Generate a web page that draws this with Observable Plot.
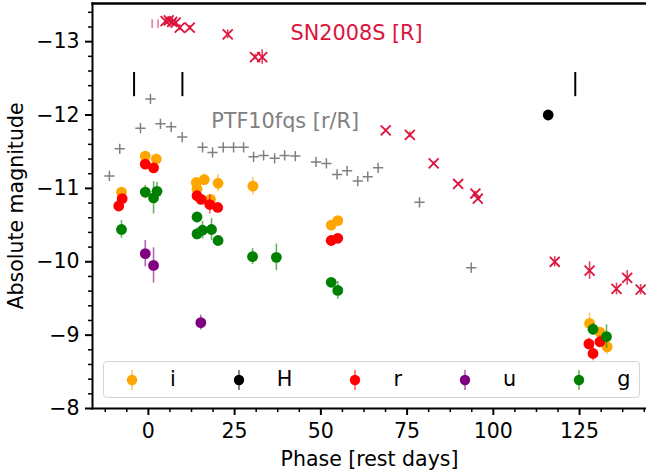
<!DOCTYPE html>
<html><head><meta charset="utf-8">
<script src="https://cdn.jsdelivr.net/npm/d3@7"></script>
<script src="https://cdn.jsdelivr.net/npm/@observablehq/plot@0.6"></script>
<style>
body{margin:0;background:#fff;}
#wrap{position:relative;width:646px;height:473px;font-family:"DejaVu Sans",sans-serif;overflow:hidden;}
#legend{position:absolute;left:103px;top:361px;width:537px;height:37px;border:1px solid #d4d4d4;border-radius:4px;background:rgba(255,255,255,0.8);display:flex;align-items:center;padding-left:18px;box-sizing:border-box;font-size:20.8px;color:#000;}
.entry{display:flex;align-items:center;margin-right:53px;}
.entry span{margin-left:28px;line-height:1;}
</style></head><body><div id="wrap"></div><script>
// ---- data ----
const bands = ["i", "H", "r", "u", "g"];
const bandColors = ["orange", "black", "red", "purple", "green"];

const iPhase = [-7.8, -0.9, 2.3, 13.9, 14.1, 16.2, 18.0, 20.2, 30.3, 53.0, 54.9, 127.9, 130.9, 133.0];
const iMag   = [-10.95, -11.44, -11.40, -11.08, -10.99, -11.12, -10.85, -11.07, -11.03, -10.50, -10.56, -9.16, -9.04, -8.84];
const iErr   = [0.05, 0.05, 0.07, 0.05, 0.05, 0.08, 0.06, 0.12, 0.12, 0.05, 0.05, 0.14, 0.06, 0.10];

const HPhase = [115.9];
const HMag   = [-12.00];
const HErr   = [0.05];

const rPhase = [-8.6, -7.6, -0.9, 1.5, 14.1, 15.3, 17.8, 20.1, 53.0, 54.9, 127.7, 128.9, 130.9];
const rMag   = [-10.76, -10.86, -11.33, -11.28, -10.90, -10.85, -10.78, -10.74, -10.29, -10.32, -8.88, -8.75, -8.91];
const rErr   = [0.05, 0.05, 0.05, 0.05, 0.05, 0.05, 0.13, 0.05, 0.05, 0.05, 0.08, 0.10, 0.08];

const uPhase = [-0.9, 1.5, 15.2];
const uMag   = [-10.11, -9.95, -9.17];
const uErr   = [0.18, 0.24, 0.10];

const gPhase = [-7.8, -0.9, 1.5, 2.5, 14.1, 14.1, 15.7, 18.3, 20.2, 30.2, 37.1, 53.0, 54.9, 128.9, 132.8];
const gMag   = [-10.44, -10.95, -10.87, -10.96, -10.61, -10.38, -10.43, -10.44, -10.29, -10.07, -10.06, -9.72, -9.61, -9.08, -8.98];
const gErr   = [0.12, 0.09, 0.22, 0.12, 0.05, 0.08, 0.12, 0.15, 0.05, 0.11, 0.18, 0.05, 0.12, 0.08, 0.16];

// SN2008S [R] comparison light curve
const snPhase = [5.0, 5.9, 6.9, 7.9, 9.1, 12.0, 23.0, 30.9, 33.0, 68.8, 75.8, 82.7, 89.8, 94.8, 95.5, 117.8, 127.9, 135.7, 138.8, 142.7];
const snMag   = [-13.28, -13.29, -13.27, -13.26, -13.19, -13.19, -13.10, -12.79, -12.79, -11.79, -11.73, -11.34, -11.06, -10.93, -10.86, -10.00, -9.88, -9.63, -9.78, -9.62];
const snErr   = [0.05, 0.05, 0.05, 0.05, 0.04, 0.03, 0.06, 0.04, 0.10, 0.02, 0.04, 0.02, 0.02, 0.03, 0.03, 0.07, 0.12, 0.08, 0.10, 0.07];
// SN2008S early points shown only as error bars
const snBarPhase = [1.1, 2.8];
const snBarMag   = [-13.24, -13.24];
const snBarErr   = [0.06, 0.06];

// PTF10fqs [r/R] comparison
const ptfPhase = [-11.3, -8.3, -2.3, 0.6, 3.5, 6.6, 9.8, 15.7, 18.6, 21.7, 24.7, 27.6, 30.5, 33.4, 36.6, 39.5, 42.6, 48.6, 51.6, 54.7, 57.6, 60.7, 63.6, 66.6, 78.6, 93.6];
const ptfMag   = [-11.17, -11.54, -11.82, -12.22, -11.88, -11.84, -11.70, -11.56, -11.49, -11.56, -11.56, -11.56, -11.43, -11.45, -11.41, -11.45, -11.44, -11.36, -11.34, -11.19, -11.24, -11.10, -11.16, -11.28, -10.81, -9.92];

// epoch markers (vertical black bars)
const epochPhase = [-4.15, 9.86, 123.75];
const epochMagTop = -12.58;
const epochMagBottom = -12.25;

// annotations
const annText  = ["SN2008S [R]", "PTF10fqs [r/R]"];
const annPhase = [41.2, 18.2];
const annMag   = [-13.12, -11.91];
const annColor = ["crimson", "gray"];

const xTicks = [0, 25, 50, 75, 100, 125];
const yTicks = [-13, -12, -11, -10, -9, -8];
const xDomain = [-16.2, 144.4];
const yDomain = [-8, -13.52];

// ---- build tables ----
const bandData = {
  i: [iPhase, iMag, iErr], H: [HPhase, HMag, HErr], r: [rPhase, rMag, rErr],
  u: [uPhase, uMag, uErr], g: [gPhase, gMag, gErr]
};
const zip = (p, m, e) => p.map((d, k) => ({phase: d, mag: m[k], err: e ? e[k] : 0}));
const sn = zip(snPhase, snMag, snErr);
const snBar = zip(snBarPhase, snBarMag, snBarErr);
const ptf = zip(ptfPhase, ptfMag);
const epochs = epochPhase.map(p => ({phase: p, top: epochMagTop, bottom: epochMagBottom}));
const ann = annText.map((t, k) => ({text: t, phase: annPhase[k], mag: annMag[k], color: annColor[k]}));

const xMinor = d3.range(-12.5, 145, 6.25).filter(v => Math.abs(v % 25) > 1e-9);
const yMinor = d3.range(-13.4, -8, 0.2).map(v => +v.toFixed(1)).filter(v => Math.abs(v - Math.round(v)) > 1e-6);

const marks = [];
// SN2008S
marks.push(Plot.ruleX(snBar, {x: "phase", y1: d => d.mag - d.err, y2: d => d.mag + d.err, stroke: "crimson", strokeOpacity: 0.55, strokeWidth: 1.6}));
marks.push(Plot.ruleX(sn, {x: "phase", y1: d => d.mag - d.err, y2: d => d.mag + d.err, stroke: "crimson", strokeOpacity: 0.8, strokeWidth: 1.6}));
marks.push(Plot.dot(sn, {x: "phase", y: "mag", symbol: "times", r: 4.6, stroke: "crimson", strokeWidth: 1.8}));
// PTF10fqs
marks.push(Plot.dot(ptf, {x: "phase", y: "mag", symbol: "plus", r: 3.4, stroke: "gray", strokeWidth: 1.5}));
// epochs
marks.push(Plot.ruleX(epochs, {x: "phase", y1: "top", y2: "bottom", stroke: "black", strokeWidth: 2}));
// bands
bands.forEach((b, k) => {
  const rows = zip(...bandData[b]);
  marks.push(Plot.ruleX(rows, {x: "phase", y1: d => d.mag - d.err, y2: d => d.mag + d.err, stroke: bandColors[k], strokeOpacity: 0.6, strokeWidth: 1.6}));
  marks.push(Plot.dot(rows, {x: "phase", y: "mag", r: 5.4, fill: bandColors[k], stroke: "none"}));
});
// annotations
marks.push(Plot.text(ann, {x: "phase", y: "mag", text: "text", fill: d => d.color, textAnchor: "start", fontSize: 20.8}));
// axes
const intFmt = d3.format("d");
marks.push(Plot.axisY({ticks: yTicks, tickFormat: intFmt, tickSize: 7, strokeWidth: 2, tickPadding: 6, fontSize: 20.5, label: "Absolute magnitude", labelAnchor: "center", labelArrow: "none", labelOffset: 84}));
marks.push(Plot.axisY({ticks: yMinor, tickSize: 4, strokeWidth: 1.5, tickFormat: () => "", label: null}));
marks.push(Plot.axisX({ticks: xTicks, tickFormat: intFmt, tickSize: 7, strokeWidth: 2, tickPadding: 8, fontSize: 20.5, label: "Phase [rest days]", labelAnchor: "center", labelArrow: "none", labelOffset: 57}));
marks.push(Plot.axisX({ticks: xMinor, tickSize: 4, strokeWidth: 1.5, tickFormat: () => "", label: null}));
marks.push(Plot.frame({anchor: "left", strokeWidth: 2}));
marks.push(Plot.frame({anchor: "top", strokeWidth: 2.5}));
marks.push(Plot.frame({anchor: "bottom", strokeWidth: 2}));

const chart = Plot.plot({
  width: 646, height: 473,
  marginLeft: 92, marginRight: 0, marginTop: 3, marginBottom: 65,
  x: {domain: xDomain},
  y: {domain: yDomain},
  color: {type: "identity"},
  style: {fontFamily: "DejaVu Sans", fontSize: "20.5px", background: "white", overflow: "visible"},
  marks
});
const wrap = document.getElementById("wrap");
wrap.appendChild(chart);

// legend
const legend = d3.select(wrap).append("div").attr("id", "legend");
bands.forEach((b, k) => {
  const e = legend.append("div").attr("class", "entry");
  const s = e.append("svg").attr("width", 20).attr("height", 24);
  s.append("line").attr("x1", 10).attr("x2", 10).attr("y1", 2).attr("y2", 22)
    .attr("stroke", bandColors[k]).attr("stroke-opacity", 0.6).attr("stroke-width", 1.6);
  s.append("circle").attr("cx", 10).attr("cy", 12).attr("r", 5.2).attr("fill", bandColors[k]);
  e.append("span").text(b);
});
</script></body></html>
